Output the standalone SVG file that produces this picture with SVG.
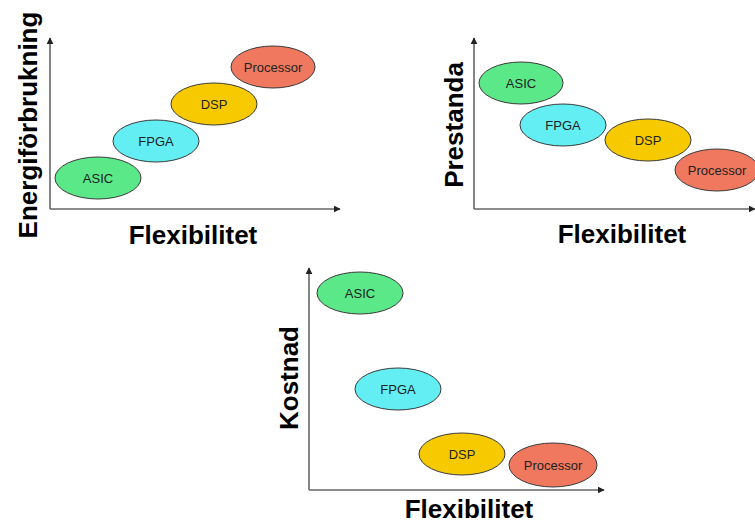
<svg xmlns="http://www.w3.org/2000/svg" width="755" height="524" viewBox="0 0 755 524">
  <style>
    .axis { stroke: #666; stroke-width: 1.6; fill: none; }
    .node ellipse { stroke: #3a3a3a; stroke-width: 1; }
    .node text { font-family: "Liberation Sans", Arial, sans-serif; font-size: 13px; fill: #222; text-anchor: middle; dominant-baseline: central; }
    .asic { fill: #5ae889; }
    .fpga { fill: #63eef4; }
    .dsp { fill: #f7ca00; }
    .proc { fill: #f0785e; }
    .lbl { font-family: "Liberation Sans", Arial, sans-serif; font-weight: bold; font-size: 26px; fill: #000; text-anchor: middle; }
  </style>
  <defs>
    <marker id="arr" viewBox="0 0 10 10" refX="9" refY="5" markerWidth="7" markerHeight="7" orient="auto" markerUnits="userSpaceOnUse">
      <path d="M0,0 L10,5 L0,10 z" fill="#222"/>
    </marker>
  </defs>

  <rect width="755" height="524" fill="#fff"/>

  <g id="connectors">
    <!-- energy chart axes -->
    <path class="axis" d="M50,209 V38" marker-end="url(#arr)"/>
    <path class="axis" d="M50,209 H340" marker-end="url(#arr)"/>
    <!-- performance chart axes -->
    <path class="axis" d="M474,209 V38" marker-end="url(#arr)"/>
    <path class="axis" d="M474,209 H755" marker-end="url(#arr)"/>
    <!-- cost chart axes -->
    <path class="axis" d="M309,490 V268" marker-end="url(#arr)"/>
    <path class="axis" d="M309,490 H604" marker-end="url(#arr)"/>
  </g>

  <!-- axis titles -->
  <text class="lbl" x="193" y="244">Flexibilitet</text>
  <text class="lbl" transform="translate(37,125) rotate(-90)">Energiförbrukning</text>
  <text class="lbl" x="622" y="243">Flexibilitet</text>
  <text class="lbl" transform="translate(463,125) rotate(-90)">Prestanda</text>
  <text class="lbl" x="469" y="518">Flexibilitet</text>
  <text class="lbl" transform="translate(298,378) rotate(-90)">Kostnad</text>

  <!-- energy chart -->
  <g id="e-asic" class="node"><ellipse class="asic" cx="98" cy="178" rx="43" ry="21"/><text x="98" y="178">ASIC</text></g>
  <g id="e-fpga" class="node"><ellipse class="fpga" cx="156" cy="141" rx="43" ry="21"/><text x="156" y="141">FPGA</text></g>
  <g id="e-dsp" class="node"><ellipse class="dsp" cx="214" cy="104" rx="43" ry="21"/><text x="214" y="104">DSP</text></g>
  <g id="e-proc" class="node"><ellipse class="proc" cx="273" cy="67" rx="42" ry="21"/><text x="273" y="67">Processor</text></g>

  <!-- performance chart -->
  <g id="p-asic" class="node"><ellipse class="asic" cx="521" cy="83" rx="42" ry="21"/><text x="521" y="83">ASIC</text></g>
  <g id="p-fpga" class="node"><ellipse class="fpga" cx="563" cy="125" rx="43" ry="21"/><text x="563" y="125">FPGA</text></g>
  <g id="p-dsp" class="node"><ellipse class="dsp" cx="648" cy="140" rx="43" ry="21"/><text x="648" y="140">DSP</text></g>
  <g id="p-proc" class="node"><ellipse class="proc" cx="717" cy="170" rx="42" ry="21"/><text x="717" y="170">Processor</text></g>

  <!-- cost chart -->
  <g id="c-asic" class="node"><ellipse class="asic" cx="360" cy="293" rx="43" ry="21"/><text x="360" y="293">ASIC</text></g>
  <g id="c-fpga" class="node"><ellipse class="fpga" cx="398" cy="389" rx="43" ry="21"/><text x="398" y="389">FPGA</text></g>
  <g id="c-dsp" class="node"><ellipse class="dsp" cx="462" cy="454" rx="43" ry="21"/><text x="462" y="454">DSP</text></g>
  <g id="c-proc" class="node"><ellipse class="proc" cx="553" cy="465" rx="44" ry="22"/><text x="553" y="465">Processor</text></g>
</svg>
